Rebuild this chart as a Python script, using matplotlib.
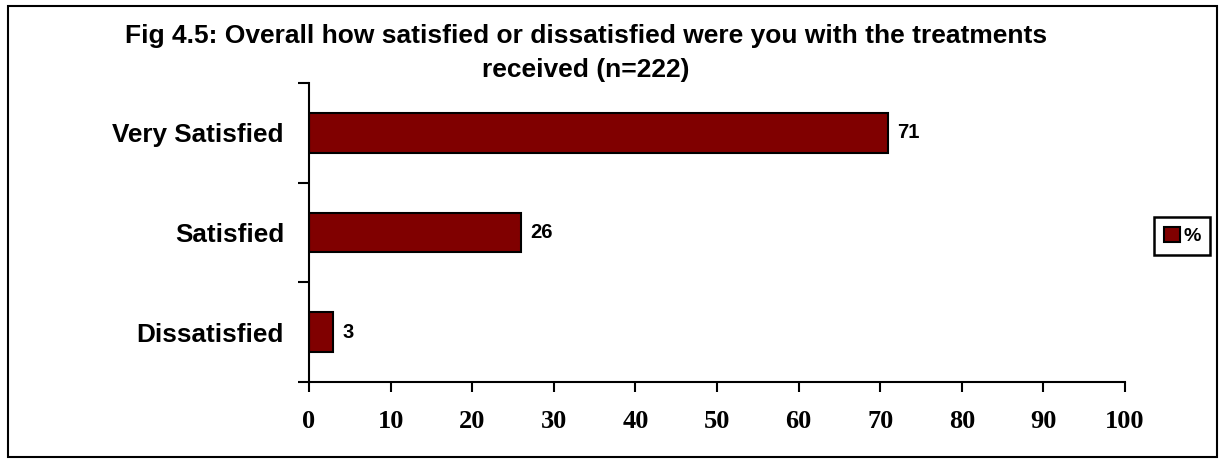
import matplotlib.pyplot as plt
from matplotlib.patches import Rectangle

categories = ['Dissatisfied', 'Satisfied', 'Very Satisfied']
values = [3, 26, 71]
xticks = [0, 10, 20, 30, 40, 50, 60, 70, 80, 90, 100]
title = ('Fig 4.5: Overall how satisfied or dissatisfied were you with the treatments\n'
         'received (n=222)')

fig = plt.figure(figsize=(12.2, 4.63), dpi=100)
ax = fig.add_axes([309 / 1220, 81 / 463, 816 / 1220, 299 / 463])

ypos = range(len(categories))
ax.barh(ypos, values, height=0.4, color='#800000', edgecolor='black',
        linewidth=1.5, label='%')

for y, v in zip(ypos, values):
    ax.text(v + 1.1, y, str(v), va='center', ha='left', fontsize=14.5,
            fontweight='bold', family='Liberation Sans')

ax.set_xlim(0, 100)
ax.set_ylim(-0.5, 2.5)
ax.set_xticks(xticks)
ax.set_xticklabels([str(t) for t in xticks], fontsize=19, fontweight='bold',
                   family='Liberation Serif')
ax.set_yticks(list(ypos))
ax.set_yticklabels(categories, fontsize=18.8, fontweight='bold',
                   family='Liberation Sans')
ax.set_yticks([-0.5, 0.5, 1.5, 2.5], minor=True)
ax.tick_params(axis='y', which='major', length=0, pad=18)
ax.tick_params(axis='y', which='minor', length=8, width=1.5, direction='out')
ax.tick_params(axis='x', length=7, width=1.5, direction='out', pad=13)

for s in ['top', 'right']:
    ax.spines[s].set_visible(False)
for s in ['left', 'bottom']:
    ax.spines[s].set_linewidth(1.5)

fig.text(586 / 1220, 1 - 24 / 463, title, ha='center', va='top', fontsize=19,
         fontweight='bold', family='Liberation Sans', linespacing=1.55)

leg = fig.legend(loc='center', bbox_to_anchor=(1182 / 1220, 1 - 236 / 463),
                 prop={'family': 'Liberation Sans', 'weight': 'bold', 'size': 14},
                 fancybox=False, edgecolor='black', framealpha=1,
                 handlelength=0.85, handleheight=0.85, handletextpad=0.15,
                 borderpad=0.5, borderaxespad=0)
leg.get_frame().set_linewidth(1.8)

fig.patches.append(Rectangle((8 / 1220, 6 / 463), 1209 / 1220, 451 / 463,
                             transform=fig.transFigure, fill=False,
                             edgecolor='black', linewidth=1.5))

fig.savefig('out.png', dpi=100)
